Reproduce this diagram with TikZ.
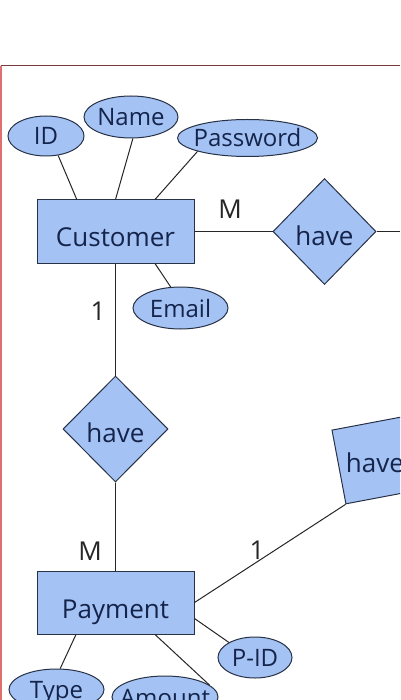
\documentclass[tikz,border=0pt]{standalone}
\usepackage{fontspec}
\setmainfont{Open Sans}
\usetikzlibrary{shapes.geometric,calc}
\definecolor{shapefill}{HTML}{A4C2F4}
\definecolor{shapetext}{HTML}{14244A}
\definecolor{shapeline}{HTML}{283246}
\definecolor{frametop}{HTML}{7A3A3A}
\definecolor{frameleft}{HTML}{E07070}
\tikzset{
  entity/.style={rectangle, draw=shapeline, fill=shapefill, line width=1pt,
    minimum width=157pt, minimum height=63pt, inner sep=0pt,
    text=shapetext, font=\fontsize{26}{30}\selectfont,
    text height=31pt, text depth=0pt},
  attr/.style={ellipse, draw=shapeline, fill=shapefill, line width=1pt,
    inner sep=0pt, text=shapetext, font=\fontsize{24}{28}\selectfont,
    text height=18pt, text depth=0pt},
  rel/.style={diamond, draw=shapeline, fill=shapefill, line width=1pt,
    inner sep=0pt, text=shapetext, font=\fontsize{26}{30}\selectfont,
    text height=27pt, text depth=0pt},
  reltext/.style={text=shapetext, font=\fontsize{26}{30}\selectfont,
    inner sep=0pt, text height=27pt, text depth=0pt},
  card/.style={text=black!85, font=\fontsize{26}{30}\selectfont, inner sep=0pt},
  conn/.style={draw=black!85, line width=1pt}
}
\begin{document}
\begin{tikzpicture}[x=1pt,y=-1pt]
\useasboundingbox (0,0) rectangle (400,700);
\clip (0,0) rectangle (400,700);
\fill[white] (0,0) rectangle (400,700);
% frame
\coordinate (ftl) at (1,66);
\coordinate (ftr) at (400,66);
\coordinate (fbl) at (1,700);
\draw[frametop, line width=1pt] (ftl) -- (ftr);
\draw[frameleft, line width=1.2pt] (ftl) -- (fbl);

% relation shapes
\node[rel, minimum width=103pt, minimum height=106pt] (hv1) at (324.5,231.5) {\makebox[0pt]{have}};
\node[rel, minimum width=105pt, minimum height=106pt] (hv2) at (115.5,429) {\makebox[0pt]{have}};
\node[rectangle, draw=shapeline, fill=shapefill, line width=1pt, minimum width=75pt, minimum height=75pt, inner sep=0pt, rotate=10.7] (hv3) at (375.8,460) {};
\node[reltext] (hv3t) at (375,459) {have};

% entities
\node[entity] (cust) at (115.5,231.5) {Customer};
\node[entity] (pay) at (115.5,602.5) {Payment};

% attributes
\node[attr, minimum width=76pt, minimum height=40pt] (id) at (46,136) {\makebox[0pt]{ID}};
\node[attr, minimum width=94pt, minimum height=42pt] (name) at (131,117) {\makebox[0pt]{Name}};
\node[attr, minimum width=140pt, minimum height=37pt] (pw) at (247.5,138) {\makebox[0pt]{Password}};
\node[attr, minimum width=95pt, minimum height=42pt] (email) at (180.5,308) {\makebox[0pt]{Email}};
\node[attr, minimum width=74pt, minimum height=41pt] (pid) at (255,657.5) {\makebox[0pt]{P-ID}};
\node[attr, minimum width=95pt, minimum height=41pt] (type) at (56.5,689.5) {\makebox[0pt]{Type}};
\node[attr, minimum width=106pt, minimum height=42pt] (amount) at (165,697) {\makebox[0pt]{Amount}};

% connection points on entity borders
\coordinate (cn1) at ($(cust.north west)!0.255!(cust.north east)$);
\coordinate (cn3) at ($(cust.north west)!0.75!(cust.north east)$);
\coordinate (cs3) at ($(cust.south west)!0.75!(cust.south east)$);
\coordinate (ps1) at ($(pay.south west)!0.25!(pay.south east)$);
\coordinate (ps3) at ($(pay.south west)!0.75!(pay.south east)$);
\coordinate (pe3) at ($(pay.north east)!0.75!(pay.south east)$);
\coordinate (rend) at (400,231.5);

% connectors
\draw[conn] (id.-58) -- (cn1);
\draw[conn] (name.-85) -- (cust.north);
\draw[conn] (pw.195) -- (cn3);
\draw[conn] (email.115) -- (cs3);
\draw[conn] (cust.east) -- (hv1.west);
\draw[conn] (hv1.east) -- (rend);
\draw[conn] (cust.south) -- (hv2.north);
\draw[conn] (hv2.south) -- (pay.north);
\draw[conn] (pay.east) -- (hv3.south west);
\draw[conn] (type.80) -- (ps1);
\draw[conn] (amount.15) -- (ps3);
\draw[conn] (pid.150) -- (pe3);

% cardinalities
\node[card] (c1) at (230,209) {M};
\node[card] (c2) at (98,311) {1};
\node[card] (c3) at (90,551) {M};
\node[card] (c4) at (257,550) {1};
\end{tikzpicture}
\end{document}
